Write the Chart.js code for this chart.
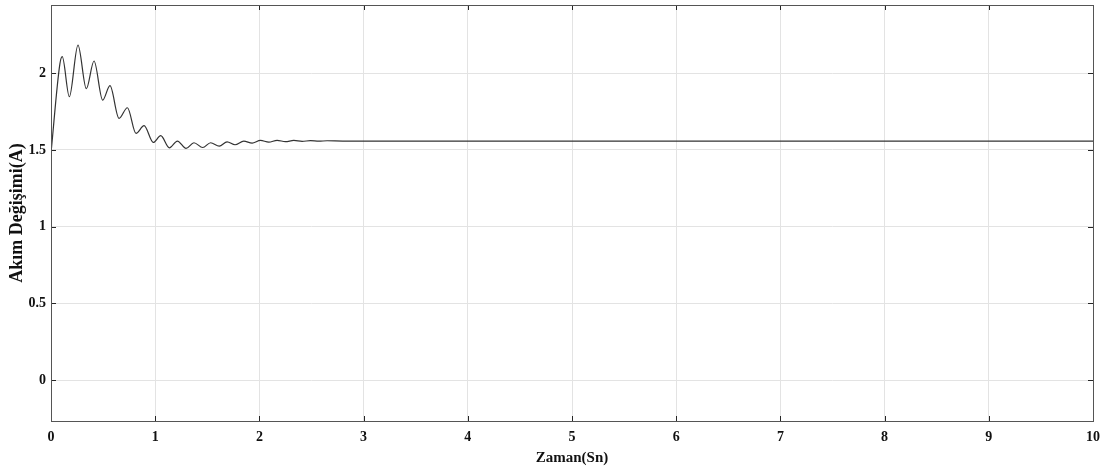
<!DOCTYPE html>
<html>
<head>
<meta charset="utf-8">
<script src="https://cdn.jsdelivr.net/npm/chart.js@4/dist/chart.umd.min.js"></script>
<style>
html,body{margin:0;padding:0;background:#fff;}
#wrap{width:1107px;height:473px;position:relative;}
</style>
</head>
<body>
<div id="wrap"><canvas id="c" width="1107" height="473"></canvas></div>
<script>
// Time (s) and current (A)
const timeValues = [0, 0.085, 0.108, 0.176, 0.259, 0.339, 0.413, 0.496, 0.566, 0.653, 0.733, 0.816, 0.893, 0.982, 1.053, 1.136, 1.213, 1.296, 1.372, 1.456, 1.532, 1.615, 1.69, 1.766, 1.85, 1.93, 2.01, 2.09, 2.17, 2.25, 2.33, 2.41, 2.49, 2.57, 2.65, 2.8, 3.5, 10];
const currentValues = [1.48, 2.06, 2.108, 1.847, 2.184, 1.90, 2.08, 1.825, 1.919, 1.706, 1.775, 1.608, 1.658, 1.549, 1.593, 1.514, 1.558, 1.510, 1.547, 1.516, 1.547, 1.525, 1.553, 1.534, 1.557, 1.545, 1.562, 1.551, 1.563, 1.554, 1.562, 1.556, 1.561, 1.557, 1.560, 1.558, 1.558, 1.558];
const xTickValues = [0,1,2,3,4,5,6,7,8,9,10];
const yTickValues = [0,0.5,1,1.5,2];
const xTitle = 'Zaman(Sn)';
const yTitle = 'Akım Değişimi(A)';

const points = timeValues.map((t,i)=>({x:t,y:currentValues[i]}));
const fam = '"Liberation Serif","Times New Roman",serif';
const font = {family:fam, size:14, weight:'bold'};

const boxPlugin = {
  id:'box',
  afterDraw(chart){
    const {ctx, chartArea:a, scales} = chart;
    ctx.save();
    ctx.strokeStyle = '#262626';
    ctx.lineWidth = 1;
    const L = 5;
    xTickValues.forEach(v=>{
      const px = Math.round(scales.x.getPixelForValue(v))+0.5;
      ctx.beginPath();
      ctx.moveTo(px,a.bottom); ctx.lineTo(px,a.bottom-L);
      ctx.moveTo(px,a.top); ctx.lineTo(px,a.top+L);
      ctx.stroke();
    });
    yTickValues.forEach(v=>{
      const py = Math.round(scales.y.getPixelForValue(v))+0.5;
      ctx.beginPath();
      ctx.moveTo(a.left,py); ctx.lineTo(a.left+L,py);
      ctx.moveTo(a.right,py); ctx.lineTo(a.right-L,py);
      ctx.stroke();
    });
    ctx.strokeStyle = '#555';
    ctx.strokeRect(Math.round(a.left)+0.5, Math.round(a.top)+0.5, Math.round(a.right-a.left), Math.round(a.bottom-a.top));
    ctx.restore();
  }
};

new Chart(document.getElementById('c'), {
  type:'line',
  data:{datasets:[{
    data:points,
    borderColor:'#333333',
    borderWidth:1.2,
    pointRadius:0,
    fill:false,
    cubicInterpolationMode:'monotone'
  }]},
  options:{
    responsive:false,
    animation:false,
    devicePixelRatio:1,
    layout:{padding:{left:0,right:14,top:5,bottom:0}},
    plugins:{legend:{display:false},tooltip:{enabled:false}},
    scales:{
      x:{
        type:'linear', min:0, max:10,
        afterBuildTicks(s){ s.ticks = xTickValues.map(v=>({value:v})); },
        afterFit(s){ s.height = 52; s.paddingLeft = 0; s.paddingRight = 0; },
        grid:{color:'#e3e3e3', drawTicks:false},
        border:{display:false},
        ticks:{font:font, color:'#111', padding:8, maxRotation:0, callback:v=>String(v)},
        title:{display:true, text:xTitle, font:{family:fam,size:15,weight:'bold'}, color:'#111', padding:{top:0,bottom:6}}
      },
      y:{
        type:'linear', min:-0.267, max:2.445,
        afterBuildTicks(s){ s.ticks = yTickValues.map(v=>({value:v})); },
        afterFit(s){ s.width = 51; s.paddingTop = 0; s.paddingBottom = 0; },
        grid:{color:'#e3e3e3', drawTicks:false},
        border:{display:false},
        ticks:{font:font, color:'#111', padding:5, callback:v=>String(v)},
        title:{display:true, text:yTitle, font:{family:fam,size:18,weight:'bold'}, color:'#111', padding:{top:7,bottom:0}}
      }
    }
  },
  plugins:[boxPlugin]
});
</script>
</body>
</html>
